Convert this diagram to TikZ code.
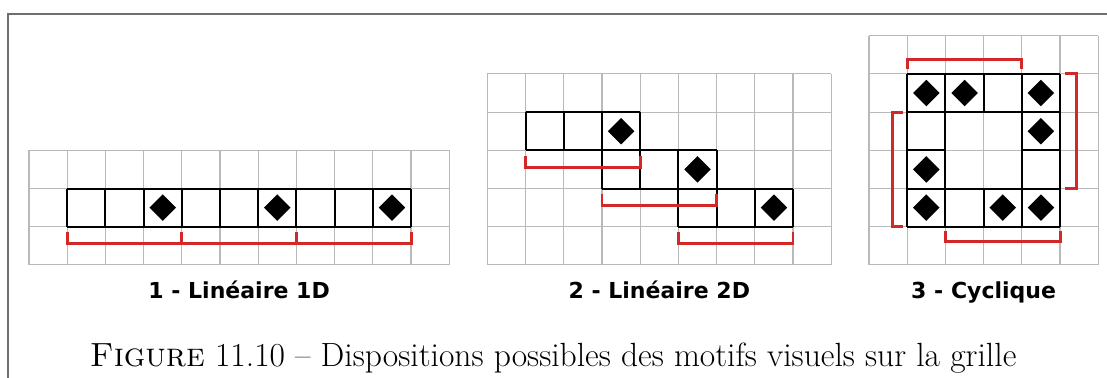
\documentclass[tikz,border=0pt]{standalone}
\usepackage{fontspec}
\newfontfamily\lblfont{DejaVu Sans}
\usetikzlibrary{shapes.geometric}
\definecolor{gridgray}{RGB}{185,185,185}
\definecolor{brkred}{RGB}{210,40,40}
\definecolor{framegray}{RGB}{110,110,110}

\begin{document}
\begin{tikzpicture}[x=1cm, y=1cm,
  gridline/.style={draw=gridgray, line width=0.8pt},
  cellbox/.style={draw=black, line width=1.5pt},
  motif/.style={diamond, fill=black, inner sep=0pt, minimum size=0.7cm},
  brk/.style={draw=brkred, line width=2.2pt},
  lbl/.style={font=\lblfont\bfseries\fontsize{16.4}{20}\selectfont, anchor=base},
  capt/.style={font=\fontsize{25}{30}\selectfont, anchor=base}]
  \useasboundingbox (0,0) rectangle (28.98,9.895);
  \draw[framegray, line width=1pt] (0.21,0) -- (0.21,9.53) -- (28.98,9.53);

  % 1 - lineaire 1D
  \begin{scope}[shift={(0.76,5.96)}]
    \draw[gridline] (0,-3) grid (11,0);
    \draw[cellbox] (1,-2) grid (10,-1);
    \node[motif] (a1) at (3.5,-1.5) {};
    \node[motif] (a2) at (6.5,-1.5) {};
    \node[motif] (a3) at (9.5,-1.5) {};
    \draw[brk] (1,-2.15) -- (1,-2.45) -- (4,-2.45) -- (4,-2.15);
    \draw[brk] (4,-2.15) -- (4,-2.45) -- (7,-2.45) -- (7,-2.15);
    \draw[brk] (7,-2.15) -- (7,-2.45) -- (10,-2.45) -- (10,-2.15);
  \end{scope}

  % 2 - lineaire 2D
  \begin{scope}[shift={(12.76,7.96)}]
    \draw[gridline] (0,-5) grid (9,0);
    \draw[cellbox] (1,-2) grid (4,-1);
    \draw[cellbox] (3,-3) grid (6,-2);
    \draw[cellbox] (5,-4) grid (8,-3);
    \node[motif] (b1) at (3.5,-1.5) {};
    \node[motif] (b2) at (5.5,-2.5) {};
    \node[motif] (b3) at (7.5,-3.5) {};
    \draw[brk] (1,-2.15) -- (1,-2.45) -- (4,-2.45) -- (4,-2.15);
    \draw[brk] (3,-3.15) -- (3,-3.45) -- (6,-3.45) -- (6,-3.15);
    \draw[brk] (5,-4.15) -- (5,-4.45) -- (8,-4.45) -- (8,-4.15);
  \end{scope}

  % 3 - cyclique
  \begin{scope}[shift={(22.75,8.96)}]
    \draw[gridline] (0,-6) grid (6,0);
    \draw[cellbox] (1,-2) grid (5,-1);
    \draw[cellbox] (1,-5) grid (5,-4);
    \draw[cellbox] (1,-4) grid (2,-2);
    \draw[cellbox] (4,-4) grid (5,-2);
    \node[motif] (c1) at (1.5,-1.5) {};
    \node[motif] (c2) at (2.5,-1.5) {};
    \node[motif] (c3) at (4.5,-1.5) {};
    \node[motif] (c4) at (4.5,-2.5) {};
    \node[motif] (c5) at (1.5,-3.5) {};
    \node[motif] (c6) at (1.5,-4.5) {};
    \node[motif] (c7) at (3.5,-4.5) {};
    \node[motif] (c8) at (4.5,-4.5) {};
    \draw[brk] (1,-0.88) -- (1,-0.63) -- (4,-0.63) -- (4,-0.88);
    \draw[brk] (5.13,-1) -- (5.42,-1) -- (5.42,-4) -- (5.13,-4);
    \draw[brk] (2,-5.12) -- (2,-5.38) -- (5,-5.38) -- (5,-5.12);
    \draw[brk] (0.9,-2) -- (0.62,-2) -- (0.62,-5) -- (0.9,-5);
  \end{scope}

  \node[lbl] (t1) at (6.26,2.07) {1 - Linéaire 1D};
  \node[lbl] (t2) at (17.26,2.07) {2 - Linéaire 2D};
  \node[lbl] (t3) at (25.75,2.07) {3 - Cyclique};
  \node[capt] (cap) at (14.48,0.31) {\textsc{Figure} 11.10 – Dispositions possibles des motifs visuels sur la grille};
\end{tikzpicture}
\end{document}
